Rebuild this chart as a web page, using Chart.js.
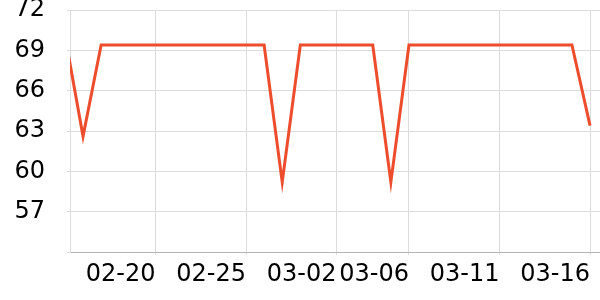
<!DOCTYPE html>
<html>
<head>
<meta charset="utf-8">
<script src="https://cdn.jsdelivr.net/npm/chart.js@4"></script>
<style>
  html, body { margin: 0; padding: 0; background: #fff; }
</style>
</head>
<body>
<canvas id="lineChart" width="600" height="300"></canvas>
<script>
// daily readings, 2023
const dates = [
  "02-15", "02-16", "02-17", "02-18", "02-19", "02-20", "02-21", "02-22", "02-23", "02-24",
  "02-25", "02-26", "02-27", "02-28", "03-01", "03-02", "03-03", "03-04", "03-05", "03-06",
  "03-07", "03-08", "03-09", "03-10", "03-11", "03-12", "03-13", "03-14", "03-15", "03-16"
];
const values = [
  70.1, 62.6, 69.4, 69.4, 69.4, 69.4, 69.4, 69.4, 69.4, 69.4,
  69.4, 69.4, 59.2, 69.4, 69.4, 69.4, 69.4, 69.4, 59.2, 69.4,
  69.4, 69.4, 69.4, 69.4, 69.4, 69.4, 69.4, 69.4, 69.4, 63.4
];
const xTickLabels = ["02-20", "02-25", "03-02", "03-06", "03-11", "03-16"];
const yTicks = [57, 60, 63, 66, 69, 72];

function dayNumber(label) {
  const [m, d] = label.split("-").map(Number);
  return (Date.UTC(2023, m - 1, d) - Date.UTC(2023, 1, 15)) / 86400000;
}

const points = dates.map((d, i) => ({ x: dayNumber(d), y: values[i] }));

new Chart("lineChart", {
  type: "line",
  data: {
    datasets: [{
      data: points,
      borderColor: "#ee4d2d",
      borderWidth: 3,
      pointRadius: 0,
      tension: 0,
      fill: false
    }]
  },
  options: {
    responsive: false,
    animation: false,
    layout: { padding: { left: 14, top: 0, right: 0, bottom: 0 } },
    plugins: {
      legend: { display: false },
      tooltip: { enabled: false }
    },
    scales: {
      x: {
        type: "linear",
        min: 0.28,
        max: 29.55,
        afterBuildTicks: (scale) => {
          scale.ticks = xTickLabels.map(l => ({ value: dayNumber(l) }));
        },
        afterFit: (scale) => {
          // labels sit left of their tick, no extra side padding wanted
          scale.paddingLeft = 0;
          scale.paddingRight = 0;
          scale.height = 48;
        },
        ticks: {
          font: { family: "DejaVu Sans", size: 24 },
          color: "#000",
          align: "end",
          padding: 5,
          maxRotation: 0,
          autoSkip: false,
          callback: (v) => {
            const i = xTickLabels.findIndex(l => dayNumber(l) === v);
            return i >= 0 ? xTickLabels[i] : "";
          }
        },
        grid: { color: "#dcdcdc", tickLength: 3 },
        border: { color: "#b4b4b4" }
      },
      y: {
        min: 54,
        max: 72,
        afterBuildTicks: (scale) => {
          scale.ticks = [54].concat(yTicks).map(v => ({ value: v }));
        },
        afterFit: (scale) => {
          scale.paddingTop = 10;
          scale.paddingBottom = 0;
          scale.width = 56;
        },
        ticks: {
          font: { family: "DejaVu Sans", size: 24 },
          color: "#000",
          padding: 22,
          callback: (v) => (yTicks.includes(v) ? String(v) : "")
        },
        grid: { color: "#dcdcdc", tickLength: 3 },
        border: { color: "#dcdcdc" }
      }
    }
  }
});
</script>
</body>
</html>
